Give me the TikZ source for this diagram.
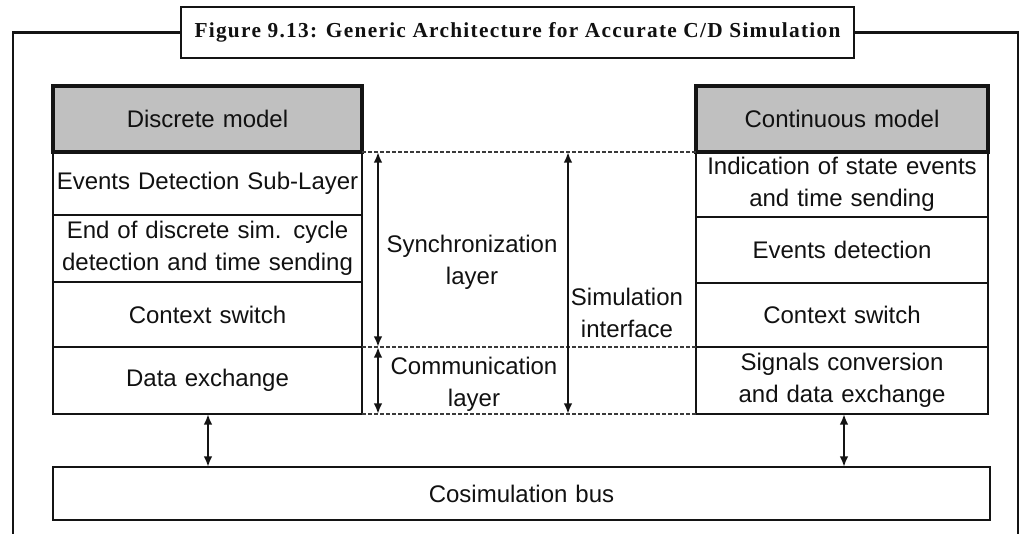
\documentclass[tikz,border=0pt]{standalone}
\usepackage{xcolor}
\usepackage{fontspec}
\setmainfont{Liberation Sans}
\newfontfamily\titlefont{Liberation Serif}[LetterSpace=6.0]
\usetikzlibrary{arrows.meta, positioning, calc}
\definecolor{headbg}{HTML}{C0C0C0}
\definecolor{boxborder}{HTML}{141414}
\definecolor{guidegray}{HTML}{3A3A3A}
\definecolor{textcolor}{HTML}{111111}
\tikzset{
  layerbox/.style={
    draw=boxborder,
    line width=2pt,
    outer sep=0pt,
    inner xsep=0pt,
    align=center,
    text=textcolor,
    font=\fontsize{18}{24}\selectfont
  },
  leftcol/.style={layerbox, text width=231.75pt, minimum width=231.75pt},
  rightcol/.style={layerbox, text width=219pt, minimum width=219pt},
  headbox/.style={fill=headbg, line width=2.6pt, minimum height=49.5pt},
  busbox/.style={
    layerbox,
    text width=702.75pt,
    minimum width=702.75pt,
    minimum height=39.75pt
  },
  titlebox/.style={
    draw=boxborder,
    fill=white,
    line width=1.6pt,
    minimum width=504.75pt,
    minimum height=38.25pt,
    text=textcolor,
    font=\titlefont\bfseries\fontsize{16}{18}\selectfont
  },
  framebox/.style={draw=boxborder, line width=1.6pt},
  guideline/.style={draw=guidegray, line width=1.1pt, dash pattern=on 3pt off 1.5pt},
  layerlabel/.style={align=center, text=textcolor, font=\fontsize{18}{24}\selectfont, inner sep=0pt},
  bothway/.style={
    {Latex[length=8pt, width=6.5pt]}-{Latex[length=8pt, width=6.5pt]},
    line width=2pt,
    color=boxborder
  }
}
\begin{document}
\begin{tikzpicture}[x=0.75pt, y=0.75pt, node distance=0pt]
  \useasboundingbox (0,0) rectangle (1031,534);

  % Frame and caption
  \node (ttl) [titlebox] at (517.5,501.5) {Figure 9.13: Generic Architecture for Accurate C/D Simulation};
  \coordinate (fbl) at (13,0);
  \coordinate (fbr) at (1018,0);
  \draw [framebox] (ttl.west) -| (fbl);
  \draw [framebox] (ttl.east) -| (fbr);

  % Discrete side
  \node (dm) [leftcol, headbox, anchor=north west] at (53,448) {Discrete model};
  \node (dl1) [leftcol, below=of dm, minimum height=47.25pt] {Events Detection Sub-Layer};
  \node (dl2) [leftcol, below=of dl1, minimum height=50.25pt] {End of discrete sim. cycle\\detection and time sending};
  \node (dl3) [leftcol, below=of dl2, minimum height=48.75pt] {Context switch};
  \node (dl4) [leftcol, below=of dl3, minimum height=50.25pt] {Data exchange};

  % Continuous side
  \node (cm) [rightcol, headbox, anchor=north west] at (696,448) {Continuous model};
  \node (cl1) [rightcol, below=of cm, minimum height=48.75pt] {Indication of state events\\and time sending};
  \node (cl2) [rightcol, below=of cl1, minimum height=49.5pt] {Events detection};
  \node (cl3) [rightcol, below=of cl2, minimum height=48pt] {Context switch};
  \node (cl4) [rightcol, below=of cl3, minimum height=50.25pt] {Signals conversion\\and data exchange};

  % Bus
  \node (bus) [busbox, anchor=north west] at (53,67) {Cosimulation bus};

  % Layer boundaries
  \draw [guideline] (dl1.north east) -- (cl1.north west);
  \draw [guideline] (dl4.north east) -- (cl4.north west);
  \draw [guideline] (dl4.south east) -- (cl4.south west);

  % Layer spans
  \coordinate (syncx) at (378,0);
  \coordinate (simx) at (568,0);
  \draw [bothway] (syncx |- dl1.north) -- (syncx |- dl4.north);
  \draw [bothway] (syncx |- dl4.north) -- (syncx |- dl4.south);
  \draw [bothway] (simx |- dl1.north) -- (simx |- dl4.south);

  \node (sync) [layerlabel] at (472,272) {Synchronization\\layer};
  \node (comm) [layerlabel] at (474,150) {Communication\\layer};
  \node (simif) [layerlabel] at (627,221) {Simulation\\interface};

  % Connectors to the bus
  \coordinate (lbx) at (208,0);
  \coordinate (rbx) at (844,0);
  \draw [bothway] (lbx |- dl4.south) -- (lbx |- bus.north);
  \draw [bothway] (rbx |- cl4.south) -- (rbx |- bus.north);

\end{tikzpicture}
\end{document}
